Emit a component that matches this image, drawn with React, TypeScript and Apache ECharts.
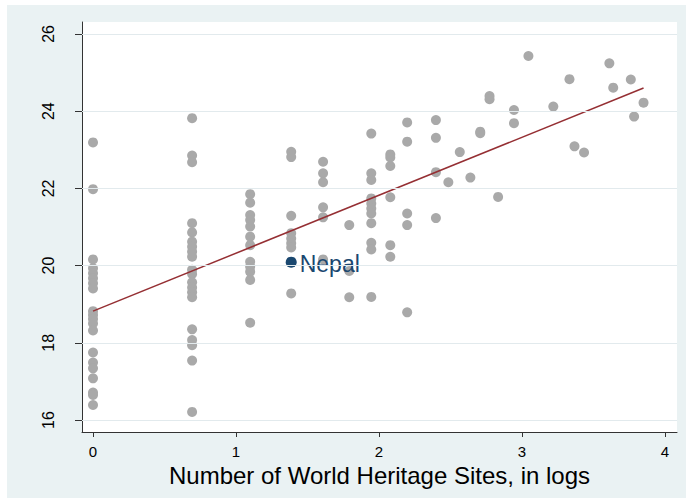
import React, { useEffect, useRef } from "react";
import * as echarts from "echarts";

// Log number of World Heritage Sites (x) and outcome (y) for each country
const siteLogs: number[] = [
  // x = 0
  0, 0, 0, 0, 0, 0, 0, 0, 0, 0, 0, 0, 0, 0, 0, 0, 0, 0, 0, 0,
  // x = 0.69
  0.693, 0.693, 0.693, 0.693, 0.693, 0.693, 0.693, 0.693, 0.693, 0.693,
  0.693, 0.693, 0.693, 0.693, 0.693, 0.693, 0.693, 0.693, 0.693, 0.693,
  // x = 1.10
  1.099, 1.099, 1.099, 1.099, 1.099, 1.099, 1.099, 1.099, 1.099, 1.099, 1.099, 1.099,
  // x = 1.39
  1.386, 1.386, 1.386, 1.386, 1.386, 1.386, 1.386, 1.386,
  // x = 1.61
  1.609, 1.609, 1.609, 1.609, 1.609, 1.609,
  // x = 1.79
  1.792, 1.792, 1.792,
  // x = 1.95
  1.946, 1.946, 1.946, 1.946, 1.946, 1.946, 1.946, 1.946, 1.946, 1.946, 1.946,
  // x = 2.08
  2.079, 2.079, 2.079, 2.079, 2.079, 2.079,
  // x = 2.20
  2.197, 2.197, 2.197, 2.197, 2.197,
  // x = 2.40
  2.398, 2.398, 2.398, 2.398,
  // upper tail
  2.485, 2.565, 2.639, 2.708, 2.708, 2.773, 2.773, 2.833, 2.944, 2.944,
  3.045, 3.219, 3.332, 3.367, 3.434, 3.611, 3.638, 3.761, 3.784, 3.85,
];

const outcomeValues: number[] = [
  23.19, 21.98, 20.16, 19.93, 19.8, 19.67, 19.54, 19.41, 18.82, 18.72,
  18.62, 18.5, 18.32, 17.75, 17.49, 17.34, 17.08, 16.71, 16.65, 16.39,
  23.82, 22.85, 22.68, 21.1, 20.86, 20.62, 20.49, 20.36, 20.23, 19.89,
  19.78, 19.57, 19.43, 19.31, 19.18, 18.35, 18.07, 17.94, 17.54, 16.21,
  21.85, 21.63, 21.31, 21.18, 21.01, 20.75, 20.53, 20.1, 19.97, 19.84, 19.63, 18.52,
  22.95, 22.81, 21.29, 20.84, 20.7, 20.58, 20.47, 19.28,
  22.69, 22.39, 22.16, 21.51, 21.25, 20.16,
  21.05, 19.86, 19.18,
  23.42, 22.39, 22.22, 21.74, 21.61, 21.48, 21.35, 21.1, 20.59, 20.42, 19.19,
  22.88, 22.8, 22.58, 21.77, 20.53, 20.23,
  23.71, 23.21, 21.35, 21.05, 18.79,
  23.77, 23.31, 22.42, 21.23,
  22.16, 22.94, 22.28, 23.47, 23.43, 24.39, 24.31, 21.78, 24.03, 23.69,
  25.43, 24.12, 24.83, 23.09, 22.93, 25.24, 24.61, 24.82, 23.86, 24.22,
];

const highlightName = "Nepal";
const highlightPoint: [number, number] = [1.386, 20.09];

const fitLineX: number[] = [0, 3.85];
const fitLineY: number[] = [18.82, 24.6];

const xTicks: number[] = [0, 1, 2, 3, 4];
const yTicks: number[] = [16, 18, 20, 22, 24, 26];

const xTitle = "Number of World Heritage Sites, in logs";

const FONT = "'Liberation Sans', Arial, Helvetica, sans-serif";

export default function App() {
  const ref = useRef<HTMLDivElement>(null);

  useEffect(() => {
    if (!ref.current) return;
    const chart = echarts.init(ref.current, undefined, { renderer: "svg" });
    const points = siteLogs.map((x, i) => [x, outcomeValues[i]]);
    const fit = fitLineX.map((x, i) => [x, fitLineY[i]]);

    chart.setOption({
      animation: false,
      backgroundColor: "#eaf2f3",
      textStyle: { fontFamily: FONT },
      grid: {
        left: 75,
        right: 9,
        top: 17,
        bottom: 66,
        show: true,
        backgroundColor: "#ffffff",
        borderWidth: 0,
      },
      xAxis: {
        type: "value",
        min: -0.077,
        max: 4.084,
        name: xTitle,
        nameLocation: "middle",
        nameGap: 28,
        nameTextStyle: { fontSize: 24, color: "#000", fontFamily: FONT },
        axisLine: { show: true, onZero: false, lineStyle: { color: "#333", width: 1 } },
        axisTick: { show: true, length: 5, customValues: xTicks, lineStyle: { color: "#333" } },
        axisLabel: {
          customValues: xTicks,
          fontSize: 15,
          color: "#000",
          margin: 12,
          fontFamily: FONT,
        },
        splitLine: { show: false },
      },
      yAxis: {
        type: "value",
        min: 15.69,
        max: 26.31,
        axisLine: { show: true, onZero: false, lineStyle: { color: "#333", width: 1 } },
        axisTick: { show: true, length: 7, customValues: yTicks, lineStyle: { color: "#333" } },
        axisLabel: {
          customValues: yTicks,
          rotate: 90,
          fontSize: 16,
          color: "#000",
          margin: 26,
          fontFamily: FONT,
        },
        splitLine: { show: false },
      },
      series: [
        {
          type: "scatter",
          data: [],
          silent: true,
          z: 1,
          markLine: {
            silent: true,
            symbol: ["none", "none"],
            label: { show: false },
            lineStyle: { color: "#e2eaed", width: 1, type: "solid" },
            data: yTicks.map((v) => ({ yAxis: v })),
          },
        },
        {
          type: "scatter",
          data: points,
          symbolSize: 10,
          itemStyle: { color: "#a9a9a9", opacity: 1 },
          z: 2,
        },
        {
          type: "line",
          data: fit,
          showSymbol: false,
          symbol: "none",
          lineStyle: { color: "#952f33", width: 1.5 },
          z: 3,
        },
        {
          type: "scatter",
          data: [highlightPoint],
          symbolSize: 11,
          itemStyle: { color: "#1a476f", opacity: 1 },
          z: 4,
          label: {
            show: true,
            formatter: highlightName,
            position: "right",
            distance: 3,
            offset: [0, 2],
            fontSize: 23,
            color: "#1a476f",
            fontFamily: FONT,
          },
        },
      ],
    });

    return () => chart.dispose();
  }, []);

  return (
    <div style={{ position: "absolute", left: 0, top: 0, width: 686, height: 502, background: "#fff" }}>
      <div
        ref={ref}
        style={{ position: "absolute", left: 7, top: 5, width: 679, height: 493 }}
      />
    </div>
  );
}
